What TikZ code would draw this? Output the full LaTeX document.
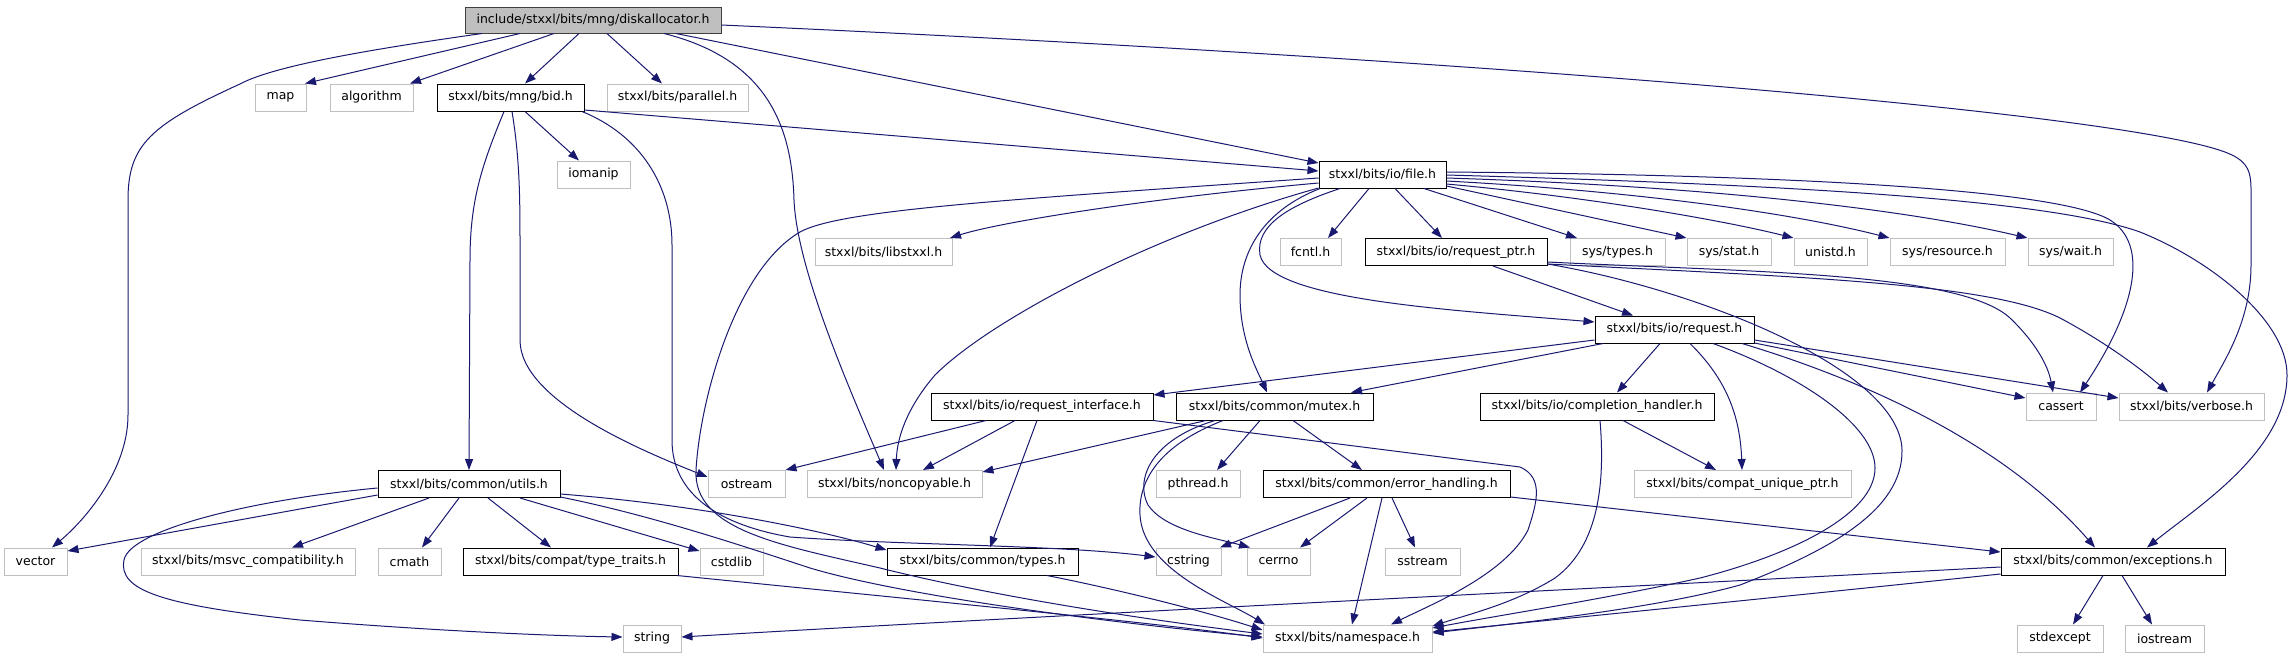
\documentclass[tikz,border=0pt]{standalone}
\usepackage{fontspec}
\setmainfont{DejaVu Sans}
\usetikzlibrary{arrows.meta}
\definecolor{ecol}{HTML}{191970}
\definecolor{gbord}{HTML}{BFBFBF}
\definecolor{mainfill}{HTML}{BFBFBF}
\definecolor{mainbord}{HTML}{404040}
\tikzset{
  nbase/.style={rectangle, inner sep=0pt, minimum height=27pt, fill=white, font=\fontsize{12.5pt}{14pt}\selectfont},
  gnode/.style={nbase, draw=gbord, line width=1pt},
  bnode/.style={nbase, draw=black, line width=1pt},
  mnode/.style={nbase, draw=mainbord, fill=mainfill, line width=1pt},
  conn/.style={draw=ecol, line width=1pt, -{Triangle[length=11pt,width=8pt]}},
}
\begin{document}
\begin{tikzpicture}[x=1pt,y=-1pt]
\fill[white] (0,0) rectangle (2293,659);
\useasboundingbox (0,0) rectangle (2293,659);
% nodes
\node[mnode, minimum width=256pt, minimum height=26pt] (main) at (593,20) {include/stxxl/bits/mng/diskallocator.h};
\node[gnode, minimum width=51pt] (map) at (280.5,97.5) {map};
\node[gnode, minimum width=83pt] (algorithm) at (371.5,97.5) {algorithm};
\node[bnode, minimum width=147pt] (bid) at (510.5,97.5) {stxxl/bits/mng/bid.h};
\node[gnode, minimum width=141pt] (parallel) at (677.5,97.5) {stxxl/bits/parallel.h};
\node[gnode, minimum width=73pt] (iomanip) at (593.5,174.5) {iomanip};
\node[bnode, minimum width=127pt] (file) at (1382.5,174.5) {stxxl/bits/io/file.h};
\node[gnode, minimum width=137pt] (libstxxl) at (883.5,252) {stxxl/bits/libstxxl.h};
\node[gnode, minimum width=61pt] (fcntl) at (1310.5,252) {fcntl.h};
\node[bnode, minimum width=182pt] (reqptr) at (1456,252) {stxxl/bits/io/request\_ptr.h};
\node[gnode, minimum width=95pt] (systypes) at (1617.5,252) {sys/types.h};
\node[gnode, minimum width=84pt] (sysstat) at (1729,252) {sys/stat.h};
\node[gnode, minimum width=73pt] (unistd) at (1830.5,252) {unistd.h};
\node[gnode, minimum width=115pt] (sysres) at (1947.5,252) {sys/resource.h};
\node[gnode, minimum width=85pt] (syswait) at (2070.5,252) {sys/wait.h};
\node[bnode, minimum width=159pt] (request) at (1674.5,329.5) {stxxl/bits/io/request.h};
\node[bnode, minimum width=222pt] (reqif) at (1042,406.5) {stxxl/bits/io/request\_interface.h};
\node[bnode, minimum width=197pt] (mutex) at (1274.5,406.5) {stxxl/bits/common/mutex.h};
\node[bnode, minimum width=234pt] (compl) at (1597,406.5) {stxxl/bits/io/completion\_handler.h};
\node[gnode, minimum width=70pt] (cassert) at (2061,406.5) {cassert};
\node[gnode, minimum width=145pt] (verbose) at (2191.5,406.5) {stxxl/bits/verbose.h};
\node[bnode, minimum width=182pt] (utils) at (469,484) {stxxl/bits/common/utils.h};
\node[gnode, minimum width=77pt] (ostream) at (746.5,484) {ostream};
\node[gnode, minimum width=175pt] (noncopy) at (894.5,484) {stxxl/bits/noncopyable.h};
\node[gnode, minimum width=84pt] (pthread) at (1198,484) {pthread.h};
\node[bnode, minimum width=247pt] (errh) at (1386.5,484) {stxxl/bits/common/error\_handling.h};
\node[gnode, minimum width=217pt] (compat) at (1742.5,484) {stxxl/bits/compat\_unique\_ptr.h};
\node[gnode, minimum width=63pt] (vector) at (35.5,561.5) {vector};
\node[gnode, minimum width=214pt] (msvc) at (248,561.5) {stxxl/bits/msvc\_compatibility.h};
\node[gnode, minimum width=63pt] (cmath) at (409.5,561.5) {cmath};
\node[bnode, minimum width=215pt] (typetr) at (570.5,561.5) {stxxl/bits/compat/type\_traits.h};
\node[gnode, minimum width=63pt] (cstdlib) at (731.5,561.5) {cstdlib};
\node[bnode, minimum width=191pt] (types) at (982.5,561.5) {stxxl/bits/common/types.h};
\node[gnode, minimum width=65pt] (cstring) at (1188.5,561.5) {cstring};
\node[gnode, minimum width=63pt] (cerrno) at (1278.5,561.5) {cerrno};
\node[gnode, minimum width=75pt] (sstream) at (1422.5,561.5) {sstream};
\node[bnode, minimum width=224pt] (except) at (2113,561.5) {stxxl/bits/common/exceptions.h};
\node[gnode, minimum width=58pt] (string) at (652,638.5) {string};
\node[gnode, minimum width=169pt] (namesp) at (1347.5,638.5) {stxxl/bits/namespace.h};
\node[gnode, minimum width=86pt] (stdexc) at (2060,638.5) {stdexcept};
\node[gnode, minimum width=79pt] (iostream) at (2164.5,638.5) {iostream};
% edges from main
\draw[conn] (main.south -| 482,0) .. controls (380,48) and (275,65) .. (240,84) .. controls (150,125) and (128,145) .. (128,200) -- (128,415) .. controls (128,470) and (85,520) .. (vector.north -| 52,0);
\draw[conn] (main.south -| 520,0) -- (map.north -| 305,0);
\draw[conn] (main.south -| 554,0) -- (algorithm.north -| 410,0);
\draw[conn] (main.south -| 579,0) -- (bid.north -| 525,0);
\draw[conn] (main.south -| 607,0) -- (parallel.north -| 662,0);
\draw[conn] (main.south -| 664,0) .. controls (770,60) and (792,130) .. (794,200) .. controls (797,270) and (850,390) .. (noncopy.north -| 884,0);
\draw[conn] (main.south -| 676,0) -- (file.west |- 0,163);
\draw[conn] (main.east |- 0,25) .. controls (1500,60) and (2150,115) .. (2232,155) .. controls (2248,163) and (2251,172) .. (2251,190) -- (2251,265) .. controls (2251,320) and (2225,360) .. (verbose.north -| 2207,0);
% edges from bid
\draw[conn] (bid.south -| 525,0) -- (iomanip.north -| 579,0);
\draw[conn] (bid.east |- 0,110) -- (file.west |- 0,171);
\draw[conn] (bid.south -| 504,0) .. controls (482,165) and (470,200) .. (470,260) -- (utils.north -| 469,0);
\draw[conn] (bid.south -| 512,0) .. controls (520,160) and (520,200) .. (520,250) -- (520,340) .. controls (520,400) and (640,450) .. (ostream.west |- 0,477);
\draw[conn] (bid.south -| 582,0) .. controls (640,135) and (672,185) .. (672,245) -- (672,440) .. controls (672,495) and (720,525) .. (790,537) .. controls (900,545) and (1060,545) .. (cstring.west |- 0,557);
% edges from utils
\draw[conn] (utils.west |- 0,488) .. controls (250,500) and (130,530) .. (124,560) .. controls (118,590) and (160,605) .. (300,620) .. controls (450,632) and (560,636) .. (string.west |- 0,637);
\draw[conn] (utils.west |- 0,495) -- (vector.east |- 0,551);
\draw[conn] (utils.south -| 429,0) -- (msvc.north -| 292,0);
\draw[conn] (utils.south -| 459,0) -- (cmath.north -| 422,0);
\draw[conn] (utils.south -| 488,0) -- (typetr.north -| 551,0);
\draw[conn] (utils.south -| 520,0) -- (cstdlib.west |- 0,551);
\draw[conn] (utils.east |- 0,494) .. controls (700,505) and (820,530) .. (types.west |- 0,550);
\draw[conn] (utils.east |- 0,497) .. controls (650,515) and (740,545) .. (810,568) .. controls (900,595) and (1100,622) .. (namesp.west |- 0,637);
\draw[conn] (typetr.south -| 677,0) .. controls (900,598) and (1150,622) .. (namesp.west |- 0,638);
\draw[conn] (types.south -| 1047,0) .. controls (1120,590) and (1200,610) .. (namesp.west |- 0,630);
% edges from file
\draw[conn] (file.south -| 1369,0) -- (fcntl.north -| 1328,0);
\draw[conn] (file.south -| 1395,0) -- (reqptr.north -| 1442,0);
\draw[conn] (file.south -| 1424,0) -- (systypes.north -| 1577,0);
\draw[conn] (file.east |- 0,186) -- (sysstat.north west);
\draw[conn] (file.east |- 0,184) .. controls (1600,198) and (1730,222) .. (unistd.north west);
\draw[conn] (file.east |- 0,181) .. controls (1650,192) and (1800,215) .. (sysres.north west);
\draw[conn] (file.east |- 0,178) .. controls (1700,186) and (1900,208) .. (syswait.north west);
\draw[conn] (file.east |- 0,172) .. controls (1800,175) and (2060,190) .. (2110,220) .. controls (2150,245) and (2135,310) .. (cassert.north -| 2080,0);
\draw[conn] (file.east |- 0,175) .. controls (1800,185) and (2050,200) .. (2140,232) .. controls (2210,260) and (2287,320) .. (2287,375) .. controls (2287,450) and (2200,505) .. (except.north -| 2147,0);
\draw[conn] (file.west |- 0,183) .. controls (1150,198) and (1000,222) .. (libstxxl.north -| 950,0);
\draw[conn] (file.west |- 0,188) .. controls (1150,235) and (990,320) .. (935,375) .. controls (905,410) and (897,440) .. (noncopy.north -| 896,0);
\draw[conn] (file.west |- 0,178) .. controls (1000,200) and (840,210) .. (800,232) .. controls (735,270) and (700,400) .. (696,470) .. controls (693,530) and (780,545) .. (880,568) .. controls (1000,598) and (1150,620) .. (namesp.west |- 0,634);
\draw[conn] (file.south -| 1320,0) .. controls (1265,210) and (1240,250) .. (1240,295) .. controls (1240,340) and (1257,370) .. (mutex.north -| 1267,0);
\draw[conn] (file.south -| 1340,0) .. controls (1290,205) and (1255,225) .. (1260,255) .. controls (1270,300) and (1450,310) .. (request.west |- 0,322);
% edges from request_ptr
\draw[conn] (reqptr.south -| 1493,0) -- (request.north -| 1633,0);
\draw[conn] (reqptr.east |- 0,264) .. controls (1700,290) and (1900,370) .. (1902,450) .. controls (1903,510) and (1830,550) .. (1740,585) .. controls (1650,610) and (1500,625) .. (namesp.east |- 0,633);
\draw[conn] (reqptr.east |- 0,262) .. controls (1750,272) and (1960,272) .. (2010,318) .. controls (2035,342) and (2048,365) .. (cassert.north -| 2053,0);
\draw[conn] (reqptr.east |- 0,264) .. controls (1800,277) and (1990,283) .. (2060,318) .. controls (2105,342) and (2140,368) .. (verbose.north -| 2168,0);
% edges from request
\draw[conn] (request.west |- 0,340) -- (reqif.east |- 0,395);
\draw[conn] (request.south -| 1603,0) -- (mutex.north -| 1351,0);
\draw[conn] (request.south -| 1660,0) -- (compl.north -| 1617,0);
\draw[conn] (request.south -| 1690,0) .. controls (1722,375) and (1740,410) .. (compat.north -| 1742,0);
\draw[conn] (request.east |- 0,343) -- (cassert.west |- 0,398);
\draw[conn] (request.east |- 0,340) -- (verbose.west |- 0,398);
\draw[conn] (request.south -| 1742,0) .. controls (1880,385) and (2010,450) .. (except.north -| 2095,0);
\draw[conn] (request.south -| 1713,0) .. controls (1800,375) and (1875,425) .. (1875,468) .. controls (1875,515) and (1790,555) .. (1700,578) .. controls (1600,600) and (1500,615) .. (namesp.east |- 0,628);
% edges from completion handler
\draw[conn] (compl.south -| 1623,0) -- (compat.north -| 1716,0);
\draw[conn] (compl.south -| 1600,0) .. controls (1605,480) and (1600,545) .. (1555,578) .. controls (1515,603) and (1470,614) .. (namesp.east |- 0,626);
% edges from request_interface
\draw[conn] (reqif.south -| 986,0) -- (ostream.north east);
\draw[conn] (reqif.south -| 1015,0) -- (noncopy.north -| 923,0);
\draw[conn] (reqif.south -| 1037,0) -- (types.north -| 990,0);
\draw[conn] (reqif.south east) -- (1520,467) .. controls (1545,478) and (1536,505) .. (1528,530) .. controls (1505,575) and (1430,605) .. (namesp.north -| 1391,0);
% edges from mutex
\draw[conn] (mutex.south -| 1260,0) -- (pthread.north -| 1217,0);
\draw[conn] (mutex.south -| 1293,0) -- (errh.north -| 1362,0);
\draw[conn] (mutex.south -| 1206,0) -- (noncopy.east |- 0,472);
\draw[conn] (mutex.south -| 1215,0) .. controls (1150,440) and (1135,480) .. (1148,505) .. controls (1165,530) and (1215,538) .. (cerrno.north -| 1250,0);
\draw[conn] (mutex.south -| 1223,0) .. controls (1160,445) and (1138,480) .. (1140,515) .. controls (1143,570) and (1225,600) .. (namesp.north -| 1265,0);
% edges from error_handling
\draw[conn] (errh.south -| 1350,0) -- (cstring.north -| 1220,0);
\draw[conn] (errh.south -| 1367,0) -- (cerrno.north -| 1300,0);
\draw[conn] (errh.south -| 1382,0) -- (namesp.north -| 1352,0);
\draw[conn] (errh.south -| 1392,0) -- (sstream.north -| 1415,0);
\draw[conn] (errh.east |- 0,497) -- (except.west |- 0,552);
% edges from exceptions
\draw[conn] (except.south -| 2103,0) -- (stdexc.north -| 2073,0);
\draw[conn] (except.south -| 2122,0) -- (iostream.north -| 2152,0);
\draw[conn] (except.west |- 0,567) .. controls (1700,583) and (1000,618) .. (string.east |- 0,637);
\draw[conn] (except.west |- 0,574) .. controls (1800,595) and (1600,615) .. (namesp.east |- 0,632);
\end{tikzpicture}
\end{document}
